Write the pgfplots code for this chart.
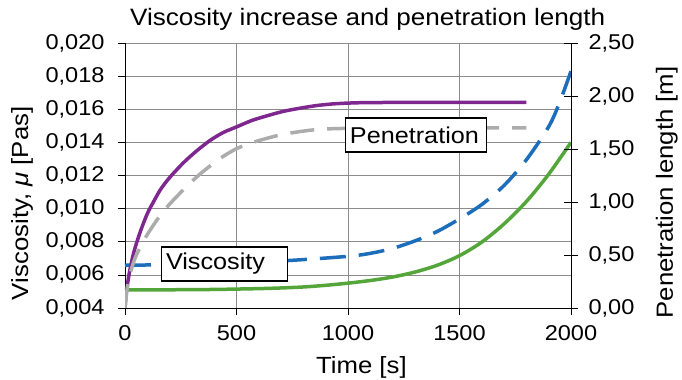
\documentclass[border=0pt]{standalone}
\usepackage{fontspec}
\setmainfont{Liberation Sans}[FakeStretch=1.1]
\usepackage{pgfplots}
\pgfplotsset{compat=1.18}
\definecolor{cpurple}{RGB}{126,39,142}
\definecolor{cgreen}{RGB}{84,166,58}
\definecolor{cblue}{RGB}{28,110,186}
\definecolor{cgray}{RGB}{172,172,172}
\definecolor{cgrid}{RGB}{140,140,140}
\begin{document}
\begin{tikzpicture}
\begin{axis}[
  name=main,
  scale only axis, width=446bp, height=265bp,
  xmin=0, xmax=2000, ymin=0.004, ymax=0.020,
  axis y line*=left, axis x line*=bottom,
  axis line style={-, black, line width=0.9bp},
  xtick={0,500,1000,1500,2000},
  ytick={0.004,0.006,0.008,0.010,0.012,0.014,0.016,0.018,0.020},
  scaled y ticks=false, scaled x ticks=false,
  grid=major, major grid style={cgrid, line width=0.6bp},
  tick align=outside, major tick length=7bp,
  tick style={black, line width=0.7bp},
  ticklabel style={font=\fontsize{21.5}{25}\selectfont},
  xticklabel style={yshift=-7bp, /pgf/number format/.cd, 1000 sep={}, assume math mode=true},
  yticklabel style={xshift=-10bp, /pgf/number format/.cd, fixed, fixed zerofill, precision=3, use comma, assume math mode=true},
  xlabel={Time [s]},
  xlabel style={at={(axis description cs:0.530,-0.225)}, anchor=center, font=\fontsize{23.5}{27}\selectfont},
  ylabel={Viscosity, \textit{μ} [Pas]},
  ylabel style={at={(axis description cs:-0.231,0.395)}, anchor=center, font=\fontsize{23.5}{27}\selectfont},
  title={Viscosity increase and penetration length},
  title style={at={(axis description cs:0.544,1.065)}, anchor=center, font=\fontsize{23.8}{27}\selectfont},
]
% green viscosity (solid)
\addplot[cgreen, line width=3.5bp, smooth] coordinates {
(0,0.00509) (200,0.00510) (400,0.00512) (600,0.00517) (700,0.00521) (800,0.00527)
(900,0.00537) (1000,0.00550) (1100,0.00566) (1200,0.00587) (1300,0.00617)
(1400,0.00658) (1500,0.00716) (1600,0.00798) (1700,0.00908) (1800,0.01043)
(1900,0.01208) (2000,0.01400)
};
% blue viscosity (dashed)
\addplot[cblue, line width=3.5bp, dash pattern=on 26bp off 13bp, smooth] coordinates {
(0,0.00658) (250,0.00663) (500,0.00672) (750,0.00688) (1000,0.00712)
(1100,0.00730) (1200,0.00760) (1300,0.00805) (1400,0.00862) (1500,0.00938)
(1600,0.01025) (1700,0.01140) (1800,0.01295) (1900,0.01495) (1950,0.01645) (2000,0.01830)
};
\end{axis}
\begin{axis}[
  scale only axis, width=446bp, height=265bp,
  xmin=0, xmax=2000, ymin=0, ymax=2.5,
  axis y line*=right, axis x line=none,
  axis line style={-, black, line width=0.9bp},
  ytick={0,0.5,1,1.5,2,2.5},
  tick align=center, major tick length=14bp,
  tick style={black, line width=0.7bp},
  ticklabel style={font=\fontsize{21.5}{25}\selectfont},
  yticklabel style={xshift=7bp, /pgf/number format/.cd, fixed, fixed zerofill, precision=2, use comma, assume math mode=true},
  ylabel={Penetration length [m]},
  ylabel style={at={(axis description cs:1.215,0.436)}, anchor=center, font=\fontsize{23.5}{27}\selectfont},
]
% purple penetration (solid)
\addplot[cpurple, line width=3.5bp, smooth] coordinates {
(0,0) (5,0.13) (10,0.21) (22,0.36) (40,0.53) (67,0.71) (100,0.89) (130,1.01)
(160,1.12) (200,1.23) (262,1.37) (320,1.48) (381,1.58) (440,1.655) (502,1.71)
(570,1.77) (640,1.815) (710,1.855) (785,1.885) (860,1.91) (930,1.925) (1000,1.933)
(1100,1.938) (1400,1.94) (1800,1.94)
};
% gray penetration (dashed)
\addplot[cgray, line width=3.5bp, dash pattern=on 24bp off 13bp, smooth] coordinates {
(0,0) (7,0.14) (20,0.30) (45,0.47) (75,0.60) (105,0.71) (150,0.85) (200,0.98)
(283,1.16) (340,1.27) (400,1.37) (440,1.43) (502,1.505) (570,1.56) (635,1.60)
(700,1.635) (755,1.655) (830,1.677) (900,1.689) (1000,1.695) (1100,1.70) (1400,1.70) (1800,1.70)
};
\node[draw=black, line width=1.2bp, fill=white, anchor=west, text width=117bp, inner xsep=4.5bp,
  minimum height=34bp, font=\fontsize{23}{26}\selectfont] at (axis cs:161,0.415) {Viscosity};
\node[draw=black, line width=1.2bp, fill=white, anchor=west, text width=132bp, inner xsep=4.5bp,
  minimum height=34bp, font=\fontsize{23}{26}\selectfont] at (axis cs:986,1.632) {Penetration};
\end{axis}
\pgfresetboundingbox
\path[use as bounding box] (-125bp,-72bp) rectangle (557bp,308bp);
\end{tikzpicture}
\end{document}
